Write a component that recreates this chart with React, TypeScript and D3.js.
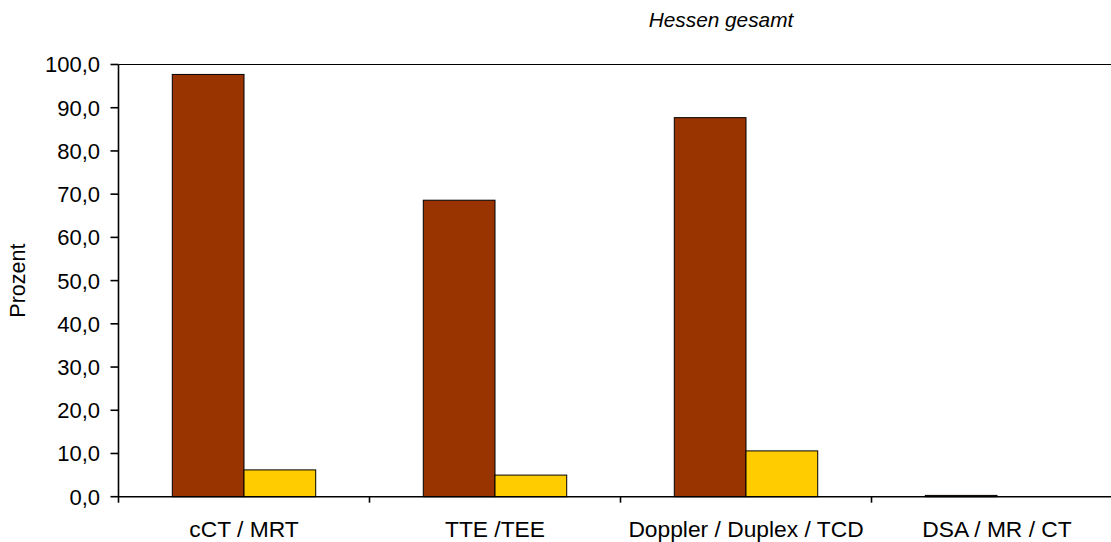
import React from "react";
import * as d3 from "d3";

const categories = ["cCT / MRT", "TTE /TEE", "Doppler / Duplex / TCD", "DSA / MR / CT"];
const seriesNames = ["A", "B"];
const seriesA = [97.7, 68.6, 87.7, 0.3];
const seriesB = [6.2, 5.0, 10.6, 0.0];
const yTicks = [0, 10, 20, 30, 40, 50, 60, 70, 80, 90, 100];
const colors = ["#993300", "#FFCC00"];
const title = "Hessen gesamt";
const yLabel = "Prozent";

const W = 1111;
const H = 542;
const left = 118.5;
const right = 1122.5;
const top = 64.5;
const bottom = 496.7;

export default function App() {
  const x = d3.scaleBand<string>().domain(categories).range([left, right]).padding(0);
  const xs = d3
    .scaleBand<string>()
    .domain(seriesNames)
    .range([0, x.bandwidth()])
    .paddingInner(0)
    .paddingOuter(0.75);
  const y = d3.scaleLinear().domain([0, 100]).range([bottom, top]);
  const fmt = (v: number) => v.toFixed(1).replace(".", ",");
  const font = "'Liberation Sans', Arial, Helvetica, sans-serif";
  const data = [seriesA, seriesB];

  return (
    <svg
      width={W}
      height={H}
      style={{ position: "fixed", left: 0, top: 0, background: "#fff" }}
      fontFamily={font}
    >
      <rect x={0} y={0} width={W} height={H} fill="#fff" />
      <text x={721} y={27} fontSize={20.8} fontStyle="italic" textAnchor="middle" fill="#000">
        {title}
      </text>
      {/* plot top border */}
      <line x1={left} x2={W} y1={top} y2={top} stroke="#000" strokeWidth={1.2} />
      {/* bars */}
      {categories.map((c, i) =>
        data.map((s, j) => {
          const v = s[i];
          if (v <= 0) return null;
          const bx = (x(c) as number) + (xs(seriesNames[j]) as number);
          return (
            <rect
              key={c + j}
              x={bx}
              y={y(v)}
              width={xs.bandwidth()}
              height={y(0) - y(v)}
              fill={colors[j]}
              stroke="#000"
              strokeWidth={1}
            />
          );
        })
      )}
      {/* y axis */}
      <line x1={left} x2={left} y1={top} y2={bottom + 6} stroke="#000" strokeWidth={1.6} />
      {yTicks.map((t) => (
        <g key={t}>
          <line x1={left - 8} x2={left} y1={y(t)} y2={y(t)} stroke="#000" strokeWidth={1.6} />
          <text
            x={100}
            y={y(t)}
            dy="0.36em"
            fontSize={22}
            textAnchor="end"
            fill="#000"
          >
            {fmt(t)}
          </text>
        </g>
      ))}
      {/* x axis */}
      <line x1={left} x2={W} y1={bottom} y2={bottom} stroke="#000" strokeWidth={1.6} />
      {categories.map((c, i) =>
        i === 0 ? null : (
          <line
            key={"t" + c}
            x1={x(c) as number}
            x2={x(c) as number}
            y1={bottom}
            y2={bottom + 6}
            stroke="#000"
            strokeWidth={1.6}
          />
        )
      )}
      {categories.map((c) => (
        <text
          key={"l" + c}
          x={(x(c) as number) + x.bandwidth() / 2}
          y={537}
          fontSize={22.8}
          textAnchor="middle"
          fill="#000"
        >
          {c}
        </text>
      ))}
      <text
        transform={`translate(25,${(top + bottom) / 2}) rotate(-90)`}
        fontSize={21.5}
        textAnchor="middle"
        fill="#000"
      >
        {yLabel}
      </text>
    </svg>
  );
}
